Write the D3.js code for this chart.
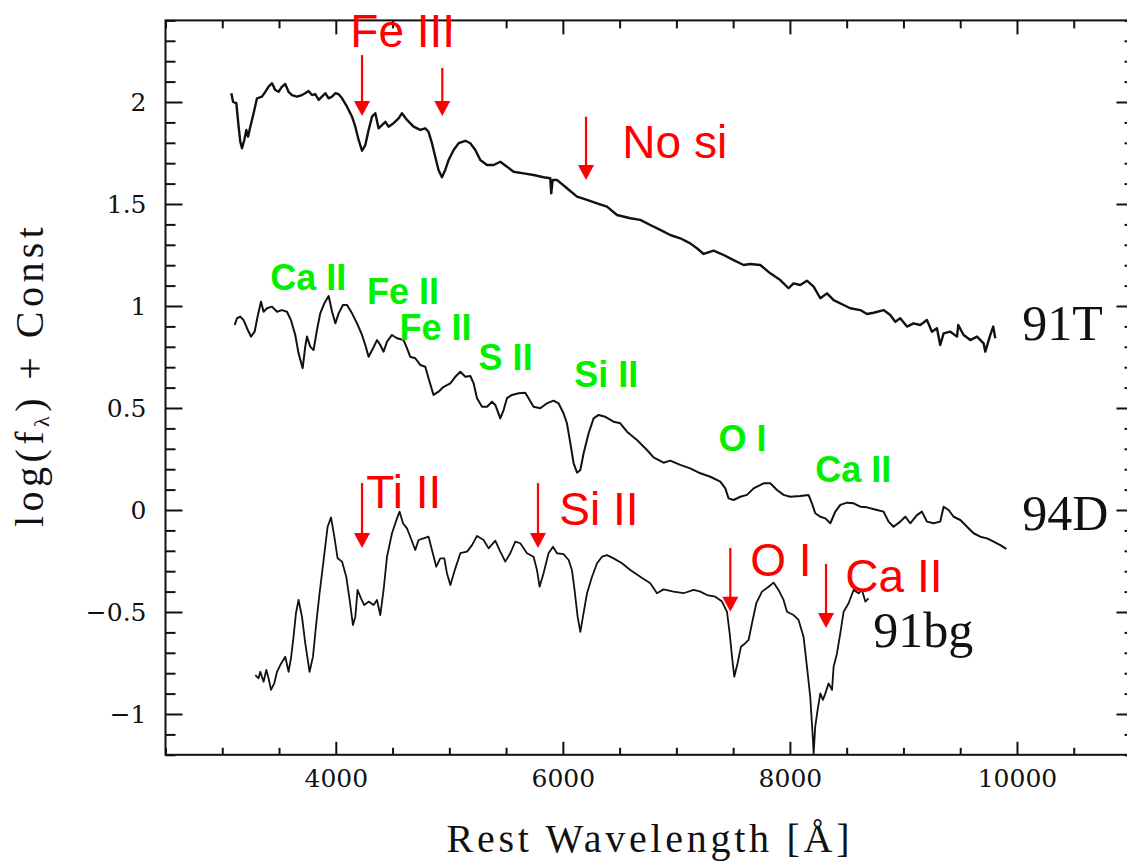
<!DOCTYPE html>
<html>
<head>
<meta charset="utf-8">
<script src="https://cdnjs.cloudflare.com/ajax/libs/d3/7.8.5/d3.min.js"></script>
<style>
  body { margin: 0; background: #fff; }
  .tick text { font-family: "DejaVu Serif", serif; font-size: 25px; fill: #111; }
  .tick line { stroke: #111; stroke-width: 2px; }
</style>
</head>
<body>
<svg id="chart"></svg>
<script>
// spectra: rest wavelength (A) and log(f) + const
var wave91T = [3080,3095,3124,3144,3159,3174,3194,3212,3227,3247,3276,3306,3350,3379,3408,3438,3467,3496,3526,3555,
  3584,3614,3658,3702,3731,3760,3790,3819,3849,3878,3908,3937,3967,3996,4025,4055,4099,4143,4172,4201,
  4231,4260,4289,4319,4348,4377,4407,4436,4465,4509,4553,4583,4627,4685,4744,4788,4817,4847,4876,4905,
  4935,4964,4994,5038,5082,5141,5185,5229,5273,5332,5390,5449,5508,5566,5654,5742,5830,5889,5898,5910,
  5948,6036,6125,6213,6301,6389,6477,6594,6682,6770,6858,6946,7034,7122,7181,7240,7328,7416,7504,7592,
  7651,7739,7827,7915,7988,8032,8091,8150,8209,8268,8327,8385,8473,8532,8620,8679,8737,8825,8884,8928,
  8972,9031,9089,9148,9207,9251,9295,9324,9354,9413,9472,9483,9530,9589,9648,9706,9721,9765,9791,9809];
var flux91T = [2.043,2.001,1.995,1.879,1.805,1.773,1.814,1.863,1.830,1.879,1.945,2.018,2.026,2.050,2.075,2.092,2.059,2.050,2.075,2.088,
  2.050,2.034,2.026,2.034,2.043,2.054,2.034,2.039,2.010,2.026,2.043,2.018,2.026,2.043,2.038,2.018,1.977,1.928,1.879,1.814,
  1.761,1.789,1.863,1.928,1.945,1.871,1.887,1.903,1.879,1.896,1.920,1.945,1.912,1.879,1.863,1.871,1.854,1.798,1.732,1.667,
  1.631,1.667,1.716,1.765,1.798,1.810,1.798,1.765,1.716,1.691,1.691,1.707,1.683,1.658,1.650,1.642,1.631,1.626,1.552,1.618,
  1.618,1.577,1.536,1.520,1.503,1.487,1.446,1.430,1.422,1.397,1.373,1.348,1.332,1.307,1.283,1.255,1.271,1.250,1.225,1.201,
  1.206,1.201,1.160,1.127,1.087,1.111,1.103,1.124,1.095,1.038,1.062,1.029,1.005,0.989,0.980,0.961,0.967,0.980,0.956,0.923,
  0.940,0.899,0.915,0.907,0.931,0.874,0.891,0.809,0.866,0.874,0.850,0.907,0.858,0.833,0.850,0.817,0.776,0.858,0.899,0.842];

var wave94D = [3109,3130,3159,3188,3218,3253,3285,3311,3341,3364,3394,3438,3482,3526,3570,3605,3643,3672,3708,3731,
  3746,3775,3804,3834,3863,3899,3937,3967,3996,4025,4063,4099,4143,4187,4231,4260,4289,4328,4363,4392,
  4421,4451,4495,4539,4597,4627,4656,4700,4744,4788,4817,4861,4905,4950,5009,5053,5097,5141,5185,5214,
  5244,5288,5332,5376,5405,5449,5478,5508,5552,5610,5669,5698,5742,5801,5860,5918,5962,6006,6036,6066,
  6095,6125,6154,6183,6227,6271,6315,6374,6447,6506,6565,6653,6741,6799,6887,6946,7034,7122,7211,7299,
  7387,7431,7460,7504,7563,7622,7680,7768,7827,7886,7944,8003,8091,8164,8194,8223,8268,8312,8356,8400,
  8444,8503,8561,8620,8679,8767,8825,8869,8913,8972,9016,9060,9119,9163,9207,9265,9324,9354,9398,9442,
  9501,9560,9618,9677,9736,9794,9853,9906];
var flux94D = [0.907,0.940,0.948,0.931,0.891,0.850,0.874,0.948,1.021,0.972,0.989,0.997,0.972,0.980,0.972,0.931,0.858,0.768,0.695,0.801,
  0.850,0.801,0.784,0.882,0.964,1.013,1.049,0.972,0.915,0.964,1.005,1.005,0.964,0.915,0.858,0.809,0.751,0.793,0.833,0.809,
  0.776,0.825,0.858,0.842,0.833,0.793,0.751,0.744,0.711,0.702,0.646,0.564,0.580,0.604,0.621,0.653,0.678,0.653,0.657,0.621,
  0.548,0.506,0.506,0.531,0.515,0.449,0.490,0.548,0.564,0.572,0.575,0.548,0.506,0.499,0.523,0.536,0.523,0.474,0.425,0.327,
  0.229,0.183,0.196,0.278,0.376,0.449,0.466,0.457,0.433,0.425,0.384,0.343,0.294,0.258,0.232,0.242,0.221,0.204,0.180,0.163,
  0.139,0.106,0.057,0.049,0.065,0.074,0.106,0.131,0.131,0.098,0.074,0.065,0.069,0.074,0.033,-0.016,-0.033,-0.041,-0.065,-0.008,
  0.025,0.036,0.033,0.016,0.013,0.000,-0.008,-0.057,-0.082,-0.057,-0.033,-0.065,-0.025,-0.008,-0.057,-0.065,-0.057,0.016,0.000,-0.033,
  -0.049,-0.082,-0.114,-0.131,-0.139,-0.155,-0.172,-0.191];

var wave91bg = [3291,3320,3335,3364,3388,3408,3429,3458,3482,3511,3555,3584,3605,3628,3649,3672,3702,3731,3769,3799,
  3828,3857,3893,3928,3958,3987,4016,4055,4092,4122,4151,4172,4192,4222,4251,4289,4333,4363,4392,4421,
  4451,4495,4539,4562,4592,4627,4656,4700,4729,4773,4817,4847,4885,4920,4956,4979,5009,5053,5097,5156,
  5200,5244,5302,5346,5405,5449,5493,5537,5581,5625,5684,5742,5772,5795,5830,5874,5913,5948,6006,6051,
  6080,6103,6130,6154,6177,6213,6257,6301,6345,6389,6447,6521,6594,6682,6770,6829,6887,6975,7063,7152,
  7211,7270,7343,7402,7446,7469,7490,7510,7539,7569,7607,7636,7666,7704,7754,7812,7856,7900,7944,7974,
  8032,8076,8120,8150,8179,8203,8209,8223,8244,8268,8291,8312,8341,8371,8385,8415,8444,8473,8517,8561,
  8605,8635,8664,8693];
var flux91bg = [-0.809,-0.825,-0.793,-0.842,-0.784,-0.825,-0.882,-0.850,-0.793,-0.760,-0.719,-0.793,-0.727,-0.621,-0.506,-0.441,-0.523,-0.653,-0.793,-0.719,
  -0.555,-0.408,-0.245,-0.082,-0.036,-0.131,-0.237,-0.253,-0.327,-0.441,-0.564,-0.523,-0.392,-0.433,-0.466,-0.449,-0.466,-0.441,-0.515,-0.392,
  -0.229,-0.114,-0.041,-0.008,-0.065,-0.090,-0.131,-0.196,-0.147,-0.139,-0.131,-0.196,-0.278,-0.237,-0.237,-0.310,-0.368,-0.286,-0.212,-0.204,
  -0.172,-0.127,-0.147,-0.188,-0.150,-0.204,-0.253,-0.212,-0.155,-0.163,-0.212,-0.229,-0.294,-0.376,-0.310,-0.212,-0.180,-0.212,-0.216,-0.245,
  -0.294,-0.392,-0.523,-0.597,-0.523,-0.408,-0.327,-0.261,-0.229,-0.221,-0.237,-0.261,-0.294,-0.327,-0.359,-0.408,-0.389,-0.400,-0.408,-0.392,
  -0.400,-0.417,-0.425,-0.449,-0.499,-0.604,-0.719,-0.817,-0.751,-0.670,-0.653,-0.637,-0.555,-0.457,-0.400,-0.376,-0.356,-0.392,-0.441,-0.499,
  -0.515,-0.539,-0.621,-0.768,-0.915,-1.127,-1.193,-1.062,-0.980,-0.899,-0.931,-0.899,-0.850,-0.882,-0.768,-0.702,-0.604,-0.499,-0.457,-0.392,
  -0.408,-0.392,-0.449,-0.433];

// axis ticks
var xMajor = [4000, 6000, 8000, 10000];
var xMinor = [2500,3000,3500,4500,5000,5500,6500,7000,7500,8500,9000,9500,10500,11000];
var yMajor = [-1, -0.5, 0, 0.5, 1, 1.5, 2];
var yMinor = [-1.2,-1.1,-0.9,-0.8,-0.7,-0.6,-0.4,-0.3,-0.2,-0.1,0.1,0.2,0.3,0.4,0.6,0.7,0.8,0.9,
  1.1,1.2,1.3,1.4,1.6,1.7,1.8,1.9,2.1,2.2,2.3,2.4];

// sample names: label, wavelength, value (left end of text, baseline)
var sampleNames = [["91T", 10047, 0.833], ["94D", 10047, -0.098], ["91bg", 8734, -0.672]];
// red arrows: wavelength, top value, tip value
var redArrows = [[4231, 2.230, 1.931], [4938, 2.167, 1.931], [6204, 1.928, 1.618], [4231, 0.132, -0.186],
  [5781, 0.132, -0.186], [7475, -0.186, -0.499], [8318, -0.265, -0.578]];
var redLabels = [["Fe III", 4128, 2.270], ["No si", 6524, 1.725], ["Ti II", 4269, 0.010],
  ["Si II", 5969, -0.074], ["O I", 7651, -0.324], ["Ca II", 8488, -0.402]];
var greenLabels = [["Ca II", 3423, 1.078], ["Fe II", 4275, 1.012], ["Fe II", 4562, 0.832], ["S II", 5258, 0.686],
  ["Si II", 6101, 0.604], ["O I", 7372, 0.289], ["Ca II", 8223, 0.136]];

var width = 1127, height = 862;
var plot = { left: 165.5, right: 1130.5, top: 20.4, bottom: 754.8 };

var svg = d3.select('#chart')
  .attr('width', width)
  .attr('height', height);

svg.append('rect').attr('width', width).attr('height', height).attr('fill', '#fff');

var x = d3.scaleLinear().domain([2500, 11000]).range([plot.left, plot.right]);
var y = d3.scaleLinear().domain([-1.2, 2.4]).range([plot.bottom, plot.top]);

function noDomain(g) { g.select('.domain').remove(); }

// bottom axis
svg.append('g')
  .attr('transform', 'translate(0,' + plot.bottom + ')')
  .call(d3.axisBottom(x).tickValues(xMinor).tickSize(-7).tickFormat(''))
  .call(noDomain);
svg.append('g')
  .attr('transform', 'translate(0,' + plot.bottom + ')')
  .call(d3.axisBottom(x).tickValues(xMajor).tickSize(-13).tickPadding(14).tickFormat(d3.format('d')))
  .call(noDomain);
// top axis
svg.append('g')
  .attr('transform', 'translate(0,' + plot.top + ')')
  .call(d3.axisTop(x).tickValues(xMinor).tickSize(-8).tickFormat(''))
  .call(noDomain);
svg.append('g')
  .attr('transform', 'translate(0,' + plot.top + ')')
  .call(d3.axisTop(x).tickValues(xMajor).tickSize(-14).tickFormat(''))
  .call(noDomain);
// left axis
svg.append('g')
  .attr('transform', 'translate(' + plot.left + ',0)')
  .call(d3.axisLeft(y).tickValues(yMinor).tickSize(-10).tickFormat(''))
  .call(noDomain);
svg.append('g')
  .attr('transform', 'translate(' + plot.left + ',0)')
  .call(d3.axisLeft(y).tickValues(yMajor).tickSize(-17).tickPadding(19).tickFormat(d3.format('~g')))
  .call(noDomain);
// right axis
svg.append('g')
  .attr('transform', 'translate(' + plot.right + ',0)')
  .call(d3.axisRight(y).tickValues(yMinor).tickSize(-6).tickFormat(''))
  .call(noDomain);
svg.append('g')
  .attr('transform', 'translate(' + plot.right + ',0)')
  .call(d3.axisRight(y).tickValues(yMajor).tickSize(-14).tickFormat(''))
  .call(noDomain);

svg.append('rect')
  .attr('x', plot.left).attr('y', plot.top)
  .attr('width', plot.right - plot.left).attr('height', plot.bottom - plot.top)
  .attr('fill', 'none').attr('stroke', '#111').attr('stroke-width', 2);

// spectra
var line = d3.line()
  .x(function (d) { return x(d[0]); })
  .y(function (d) { return y(d[1]); });

var spectra = [[wave91T, flux91T, 2.4], [wave94D, flux94D, 2], [wave91bg, flux91bg, 1.8]];
spectra.forEach(function (s) {
  svg.append('path')
    .datum(d3.zip(s[0], s[1]))
    .attr('d', line)
    .attr('fill', 'none')
    .attr('stroke', '#111')
    .attr('stroke-width', s[2])
    .attr('stroke-linejoin', 'round');
});

// axis titles
svg.append('text')
  .attr('x', 648).attr('y', 852)
  .attr('text-anchor', 'middle')
  .attr('font-family', 'Liberation Serif, serif')
  .attr('font-size', 40)
  .attr('textLength', 403)
  .attr('lengthAdjust', 'spacing')
  .attr('fill', '#111')
  .text('Rest Wavelength [Å]');

var yTitle = svg.append('text')
  .attr('transform', 'translate(43,377) rotate(-90)')
  .attr('text-anchor', 'middle')
  .attr('font-family', 'Liberation Serif, serif')
  .attr('font-size', 40)
  .attr('textLength', 300)
  .attr('lengthAdjust', 'spacing')
  .attr('fill', '#111');
yTitle.append('tspan').text('log(f');
yTitle.append('tspan').attr('font-size', 22).attr('dy', 6).text('λ');
yTitle.append('tspan').attr('dy', -6).text(')  +  Const');

// sample names
svg.selectAll('.name')
  .data(sampleNames)
  .enter()
  .append('text')
  .attr('class', 'name')
  .attr('x', function (d) { return x(d[1]); })
  .attr('y', function (d) { return y(d[2]); })
  .attr('font-family', 'Liberation Serif, serif')
  .attr('font-size', 50)
  .attr('fill', '#111')
  .text(function (d) { return d[0]; });

// red arrows
var arrows = svg.selectAll('.arrow')
  .data(redArrows)
  .enter()
  .append('g')
  .attr('class', 'arrow');
arrows.append('line')
  .attr('x1', function (d) { return x(d[0]); })
  .attr('x2', function (d) { return x(d[0]); })
  .attr('y1', function (d) { return y(d[1]); })
  .attr('y2', function (d) { return y(d[2]) - 12; })
  .attr('stroke', '#ff0000')
  .attr('stroke-width', 2.2);
arrows.append('path')
  .attr('d', function (d) {
    var px = x(d[0]), py = y(d[2]);
    return 'M' + (px - 8) + ',' + (py - 15) + 'L' + (px + 8) + ',' + (py - 15) + 'L' + px + ',' + py + 'Z';
  })
  .attr('fill', '#ff0000');

svg.selectAll('.redlab')
  .data(redLabels)
  .enter()
  .append('text')
  .attr('class', 'redlab')
  .attr('x', function (d) { return x(d[1]); })
  .attr('y', function (d) { return y(d[2]); })
  .attr('font-family', 'Liberation Sans, Arial, sans-serif')
  .attr('font-size', 46)
  .attr('fill', '#ff0000')
  .text(function (d) { return d[0]; });

svg.selectAll('.greenlab')
  .data(greenLabels)
  .enter()
  .append('text')
  .attr('class', 'greenlab')
  .attr('x', function (d) { return x(d[1]); })
  .attr('y', function (d) { return y(d[2]); })
  .attr('font-family', 'Liberation Sans, Arial, sans-serif')
  .attr('font-weight', 'bold')
  .attr('font-size', 36)
  .attr('fill', '#00f000')
  .text(function (d) { return d[0]; });
</script>
</body>
</html>
